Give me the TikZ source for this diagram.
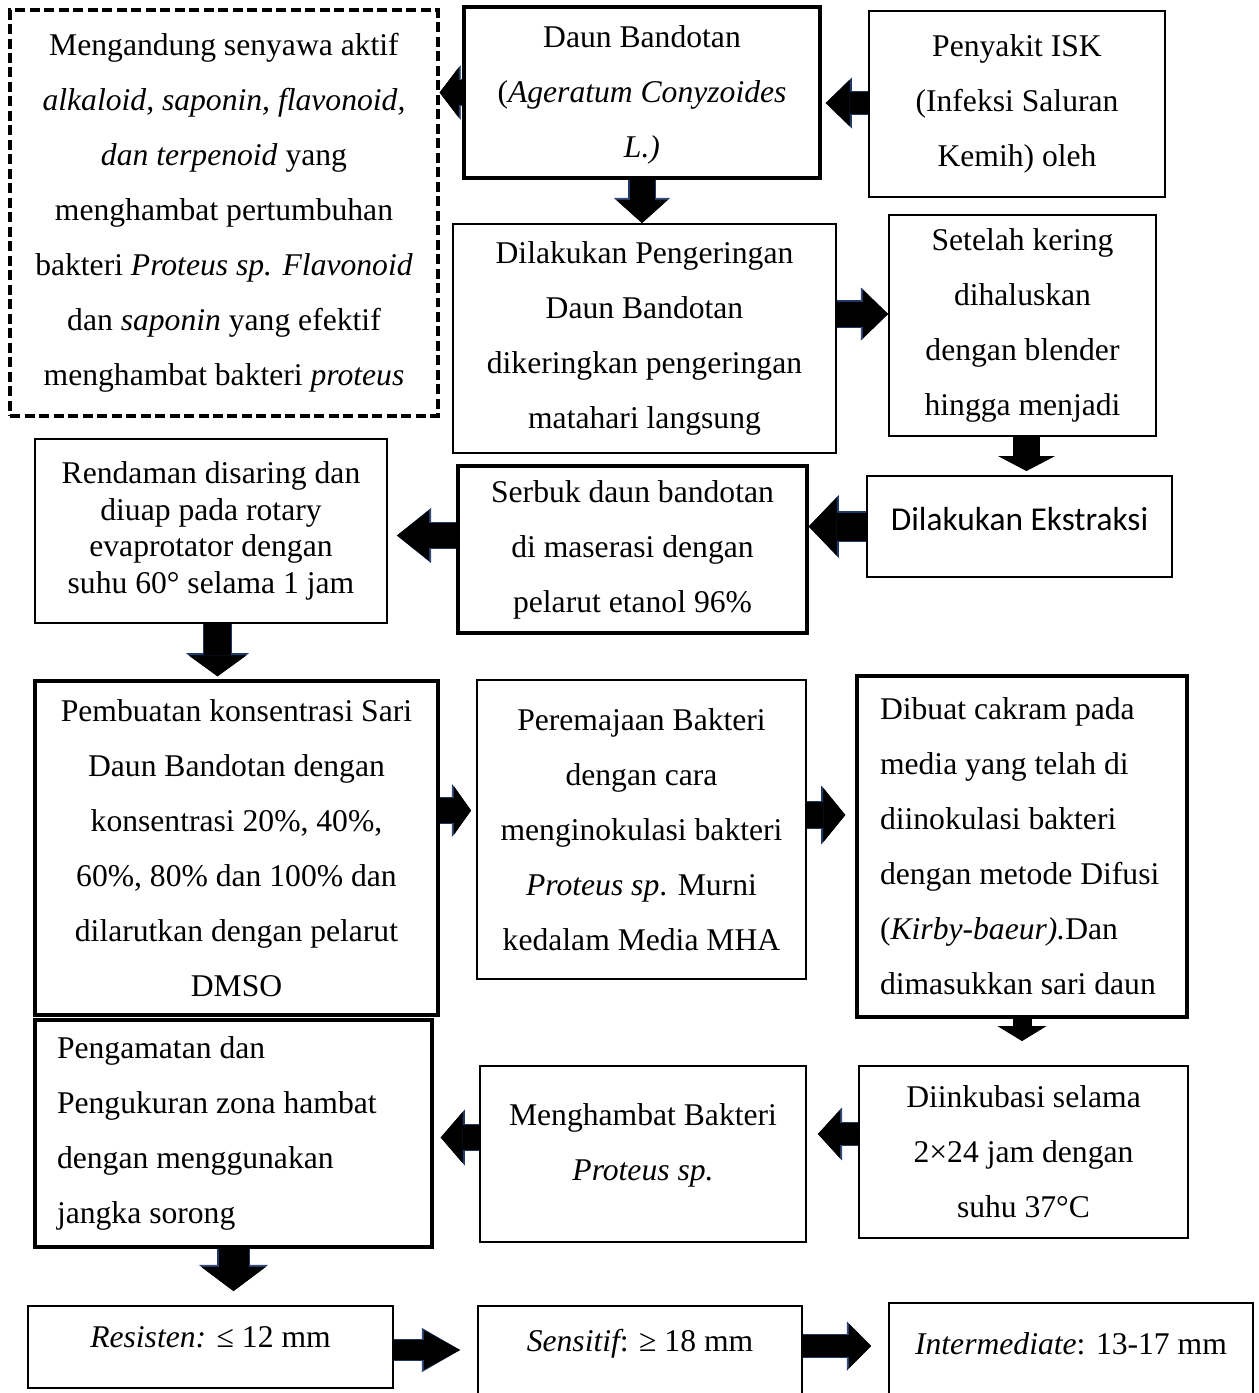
\documentclass[tikz,border=0pt]{standalone}
\usepackage{fontspec}
\setmainfont{Liberation Serif}
\newfontfamily\calibrifont{Carlito}
\usetikzlibrary{arrows.meta, calc}
\definecolor{arrnavy}{RGB}{32,56,100}

\begin{document}
\begin{tikzpicture}[x=0.02cm, y=-0.02cm,
  nd/.style={rectangle, draw=black, line width=1.1pt, inner sep=0pt, align=center,
    font=\fontsize{18}{31.3}\selectfont},
  thknd/.style={nd, line width=2pt},
  dashnd/.style={nd, line width=1.9pt, dash pattern=on 0.2cm off 0.09cm},
  arr/.style n args={3}{line width=#1cm, -{Triangle[length=#2cm, width=#3cm, line width=0.4pt]},
    preaction={draw=arrnavy, line width=#1cm+1.6pt,
      -{Triangle[length=#2cm+1.2pt, width=#3cm+2.8pt, line width=0.4pt]}}},
  parr/.style n args={3}{line width=#1cm, -{Triangle[length=#2cm, width=#3cm, line width=0.4pt]}},
]
  \useasboundingbox (0,0) rectangle (1258,1393);
  \clip (0,0) rectangle (1258,1393);

  % top rows
  \node[dashnd, minimum width=8.56cm, minimum height=8.12cm] (dash) at (224,213)
    {Mengandung senyawa aktif\\\textit{alkaloid, saponin, flavonoid,}\\\textit{dan terpenoid} yang\\menghambat pertumbuhan\\bakteri \textit{Proteus sp. Flavonoid}\\dan \textit{saponin} yang efektif\\menghambat bakteri \textit{proteus}};
  \node[thknd, minimum width=7.12cm, minimum height=3.42cm, text depth=0.05cm] (daun) at (642,92.5)
    {Daun Bandotan\\(\textit{Ageratum Conyzoides}\\\textit{L.)}};
  \node[nd, minimum width=5.92cm, minimum height=3.72cm] (isk) at (1017,104)
    {Penyakit ISK\\(Infeksi Saluran\\Kemih) oleh};
  \node[nd, minimum width=7.66cm, minimum height=4.58cm] (kering) at (644.5,338.5)
    {Dilakukan Pengeringan\\Daun Bandotan\\dikeringkan pengeringan\\matahari langsung};
  \node[nd, minimum width=5.34cm, minimum height=4.42cm] (halus) at (1022.5,325.5)
    {Setelah kering\\dihaluskan\\dengan blender\\hingga menjadi};
  \node[nd, minimum width=6.10cm, minimum height=2.02cm, text depth=0.3cm,
    font=\calibrifont\fontsize{19}{23}\selectfont] (ekstr) at (1019.5,526.5)
    {Dilakukan Ekstraksi};
  \node[thknd, minimum width=6.98cm, minimum height=3.34cm] (serbuk) at (632.5,549.5)
    {Serbuk daun bandotan\\di maserasi dengan\\pelarut etanol 96\%};
  \node[nd, minimum width=7.04cm, minimum height=3.68cm,
    font=\fontsize{18}{20.8}\selectfont] (rendam) at (211,531)
    {Rendaman disaring dan\\diuap pada rotary\\evaprotator dengan\\suhu 60° selama 1 jam};

  % middle rows
  \node[thknd, minimum width=8.06cm, minimum height=6.68cm] (konsen) at (236.5,848)
    {Pembuatan konsentrasi Sari\\Daun Bandotan dengan\\konsentrasi 20\%, 40\%,\\60\%, 80\% dan 100\% dan\\dilarutkan dengan pelarut\\DMSO};
  \node[nd, minimum width=6.58cm, minimum height=5.98cm] (remaja) at (641.5,829.5)
    {Peremajaan Bakteri\\dengan cara\\menginokulasi bakteri\\{\itshape Proteus sp}. Murni\\kedalam Media MHA};
  \node[thknd, align=flush left, text width=5.68cm, minimum width=6.60cm, minimum height=6.82cm] (cakram) at (1022,846.5)
    {Dibuat cakram pada\\media yang telah di\\diinokulasi bakteri\\dengan metode Difusi\\(\textit{Kirby-baeur).}Dan\\dimasukkan sari daun};
  \node[nd, minimum width=6.58cm, minimum height=3.44cm] (inkub) at (1023.5,1152)
    {Diinkubasi selama\\2×24 jam dengan\\suhu 37°C};
  \node[nd, minimum width=6.52cm, minimum height=3.52cm, text depth=0.48cm] (hambat) at (643,1154)
    {Menghambat Bakteri\\\textit{Proteus sp.}};
  \node[thknd, align=flush left, text width=7.06cm, minimum width=7.94cm, minimum height=4.54cm] (amati) at (233.5,1133.5)
    {Pengamatan dan\\Pengukuran zona hambat\\dengan menggunakan\\jangka sorong};

  % result row
  \node[nd, minimum width=7.30cm, minimum height=1.64cm, text depth=0.4cm] (resis) at (210.5,1347)
    {{\itshape Resisten:} ≤ 12 mm};
  \node[nd, minimum width=6.48cm, minimum height=1.88cm, text depth=0.5cm] (sensi) at (640,1353)
    {{\itshape Sensitif}: ≥ 18 mm};
  \node[nd, minimum width=7.28cm, minimum height=1.94cm, text depth=0.32cm] (inter) at (1071,1351.5)
    {{\itshape Intermediate}: 13-17 mm};

  % block arrows
  \draw[arr={0.5}{0.38}{1.0}] (daun.west) -- (daun.west -| dash.east);
  \draw[arr={0.44}{0.48}{0.92}] ($(isk.west)+(0,-1)$) -- ($(isk.west -| daun.east)+(4,-1)$);
  \draw[arr={0.5}{0.46}{1.02}] (daun.south) -- (daun.south |- kering.north);
  \draw[arr={0.5}{0.5}{0.96}] ($(kering.east)+(0,-24.5)$) -- ($(halus.west |- kering.east)+(0,-24.5)$);
  \draw[parr={0.54}{0.3}{1.14}] ($(halus.south)+(4,0)$) -- ($(halus.south |- ekstr.north)+(4,-4)$);
  \draw[arr={0.56}{0.56}{1.16}] (ekstr.west) -- (ekstr.west -| serbuk.east);
  \draw[arr={0.5}{0.64}{1.0}] ($(serbuk.west)+(0,-14)$) -- ($(serbuk.west -| rendam.east)+(9,-14)$);
  \draw[arr={0.54}{0.42}{1.16}] ($(rendam.south)+(6.5,0)$) -- ($(rendam.south |- konsen.north)+(6.5,-3)$);
  \draw[arr={0.5}{0.34}{0.96}] ($(konsen.east)+(0,-37.5)$) -- ($(konsen.east -| remaja.west)+(-5,-37.5)$);
  \draw[arr={0.52}{0.44}{1.08}] ($(remaja.east)+(0,-14.5)$) -- ($(remaja.east -| cakram.west)+(-10,-14.5)$);
  \draw[parr={0.38}{0.3}{0.98}] (cakram.south) -- ($(cakram.south |- inkub.north)+(0,-24)$);
  \draw[arr={0.44}{0.44}{0.96}] ($(inkub.west)+(0,-18)$) -- ($(inkub.west -| hambat.east)+(11,-18)$);
  \draw[arr={0.5}{0.44}{1.02}] ($(hambat.west)+(0,-16.5)$) -- ($(hambat.west -| amati.east)+(7,-16.5)$);
  \draw[arr={0.6}{0.48}{1.28}] (amati.south) -- ($(amati.south |- resis.north)+(0,-14)$);
  \draw[arr={0.4}{0.72}{0.78}] ($(resis.east)+(0,3)$) -- ($(resis.east -| sensi.west)+(-17,3)$);
  \draw[arr={0.44}{0.44}{0.88}] ($(sensi.east)+(0,-7)$) -- ($(sensi.east -| inter.west)+(-17,-7)$);
\end{tikzpicture}
\end{document}
